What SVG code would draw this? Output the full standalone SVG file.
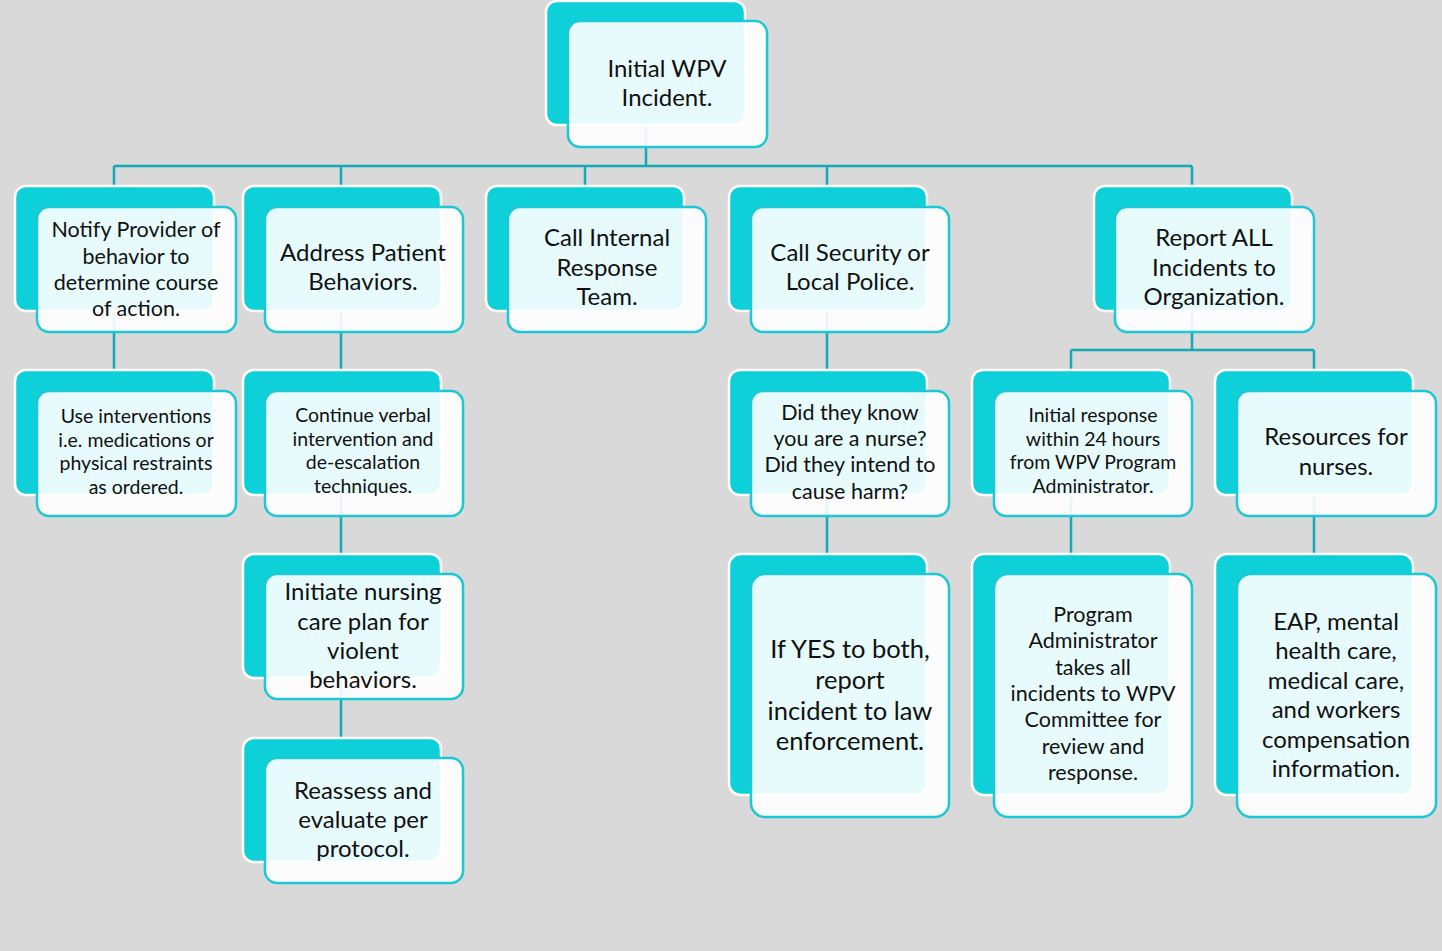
<svg xmlns="http://www.w3.org/2000/svg" width="1442" height="951" viewBox="0 0 1442 951">
<style>
.bk{fill:#0dd0d9;stroke:#ffffff;stroke-width:2.5}
.fr{fill:#ffffff;fill-opacity:0.9;stroke:#1cc8d3;stroke-width:2.5}
.ln{fill:none;stroke:#13a9b6;stroke-width:2.5}
text{font-family:Lato,"Liberation Sans",sans-serif;fill:#111;text-anchor:middle}
.s18{font-size:19.5px}.s20{font-size:21.5px}.s22{font-size:24px}.s24{font-size:25.5px}
</style>
<rect width="1442" height="951" fill="#d9d9d9"/>
<g id="connectors">
<path class="ln" d="M646 125V166M114 166H1192M114 166V186M341 166V186M585 166V186M827 166V186M1192 166V186"/>
<path class="ln" d="M114 311V370M341 311V370M341 495V554M341 678V738M827 311V370M827 495V554"/>
<path class="ln" d="M1192 311V350M1071 350H1314M1071 350V370M1314 350V370M1071 495V554M1314 495V554"/>
</g>
<g id="n-initial"><rect class="bk" x="546" y="1" width="199" height="124" rx="11"/><rect class="fr" x="568" y="21" width="199" height="126" rx="12"/>
<text class="s22"><tspan x="667" y="77">Initial WPV</tspan><tspan x="667" y="106">Incident.</tspan></text></g>
<g id="n-notify"><rect class="bk" x="15" y="186" width="199" height="125" rx="11"/><rect class="fr" x="37" y="207" width="199" height="125" rx="12"/>
<text class="s20"><tspan x="136" y="237">Notify Provider of</tspan><tspan x="136" y="264">behavior to</tspan><tspan x="136" y="290">determine course</tspan><tspan x="136" y="316">of action.</tspan></text></g>
<g id="n-address"><rect class="bk" x="243" y="186" width="198" height="125" rx="11"/><rect class="fr" x="265" y="207" width="198" height="125" rx="12"/>
<text class="s22"><tspan x="363" y="261">Address Patient</tspan><tspan x="363" y="290">Behaviors.</tspan></text></g>
<g id="n-internal"><rect class="bk" x="486" y="186" width="198" height="125" rx="11"/><rect class="fr" x="508" y="207" width="198" height="125" rx="12"/>
<text class="s22"><tspan x="607" y="246">Call Internal</tspan><tspan x="607" y="276">Response</tspan><tspan x="607" y="305">Team.</tspan></text></g>
<g id="n-security"><rect class="bk" x="729" y="186" width="198" height="125" rx="11"/><rect class="fr" x="751" y="207" width="198" height="125" rx="12"/>
<text class="s22"><tspan x="850" y="261">Call Security or</tspan><tspan x="850" y="290">Local Police.</tspan></text></g>
<g id="n-report"><rect class="bk" x="1094" y="186" width="198" height="125" rx="11"/><rect class="fr" x="1115" y="207" width="199" height="125" rx="12"/>
<text class="s22"><tspan x="1214" y="246">Report ALL</tspan><tspan x="1214" y="276">Incidents to</tspan><tspan x="1214" y="305">Organization.</tspan></text></g>
<g id="n-use"><rect class="bk" x="15" y="370" width="199" height="125" rx="11"/><rect class="fr" x="37" y="391" width="199" height="125" rx="12"/>
<text class="s18"><tspan x="136" y="423">Use interventions</tspan><tspan x="136" y="447">i.e. medications or</tspan><tspan x="136" y="470">physical restraints</tspan><tspan x="136" y="494">as ordered.</tspan></text></g>
<g id="n-continue"><rect class="bk" x="243" y="370" width="198" height="125" rx="11"/><rect class="fr" x="265" y="391" width="198" height="125" rx="12"/>
<text class="s18"><tspan x="363" y="422">Continue verbal</tspan><tspan x="363" y="446">intervention and</tspan><tspan x="363" y="469">de-escalation</tspan><tspan x="363" y="493">techniques.</tspan></text></g>
<g id="n-didthey"><rect class="bk" x="729" y="370" width="198" height="125" rx="11"/><rect class="fr" x="751" y="391" width="198" height="125" rx="12"/>
<text class="s20"><tspan x="850" y="420">Did they know</tspan><tspan x="850" y="446">you are a nurse?</tspan><tspan x="850" y="472">Did they intend to</tspan><tspan x="850" y="499">cause harm?</tspan></text></g>
<g id="n-response"><rect class="bk" x="972" y="370" width="198" height="125" rx="11"/><rect class="fr" x="994" y="391" width="198" height="125" rx="12"/>
<text class="s18"><tspan x="1093" y="422">Initial response</tspan><tspan x="1093" y="446">within 24 hours</tspan><tspan x="1093" y="469">from WPV Program</tspan><tspan x="1093" y="493">Administrator.</tspan></text></g>
<g id="n-resources"><rect class="bk" x="1215" y="370" width="198" height="125" rx="11"/><rect class="fr" x="1237" y="391" width="199" height="125" rx="12"/>
<text class="s22"><tspan x="1336" y="445">Resources for</tspan><tspan x="1336" y="475">nurses.</tspan></text></g>
<g id="n-initiate"><rect class="bk" x="243" y="554" width="198" height="124" rx="11"/><rect class="fr" x="265" y="574" width="198" height="125" rx="12"/>
<text class="s22"><tspan x="363" y="600">Initiate nursing</tspan><tspan x="363" y="630">care plan for</tspan><tspan x="363" y="659">violent</tspan><tspan x="363" y="688">behaviors.</tspan></text></g>
<g id="n-reassess"><rect class="bk" x="243" y="738" width="198" height="124" rx="11"/><rect class="fr" x="265" y="758" width="198" height="125" rx="12"/>
<text class="s22"><tspan x="363" y="799">Reassess and</tspan><tspan x="363" y="828">evaluate per</tspan><tspan x="363" y="857">protocol.</tspan></text></g>
<g id="n-ifyes"><rect class="bk" x="729" y="554" width="198" height="241" rx="12"/><rect class="fr" x="751" y="574" width="198" height="243" rx="14"/>
<text class="s24"><tspan x="850" y="658">If YES to both,</tspan><tspan x="850" y="689">report</tspan><tspan x="850" y="720">incident to law</tspan><tspan x="850" y="750">enforcement.</tspan></text></g>
<g id="n-program"><rect class="bk" x="972" y="554" width="198" height="241" rx="12"/><rect class="fr" x="994" y="574" width="198" height="243" rx="14"/>
<text class="s20"><tspan x="1093" y="622">Program</tspan><tspan x="1093" y="648">Administrator</tspan><tspan x="1093" y="675">takes all</tspan><tspan x="1093" y="701">incidents to WPV</tspan><tspan x="1093" y="727">Committee for</tspan><tspan x="1093" y="754">review and</tspan><tspan x="1093" y="780">response.</tspan></text></g>
<g id="n-eap"><rect class="bk" x="1215" y="554" width="198" height="241" rx="12"/><rect class="fr" x="1237" y="574" width="199" height="243" rx="14"/>
<text class="s22"><tspan x="1336" y="630">EAP, mental</tspan><tspan x="1336" y="659">health care,</tspan><tspan x="1336" y="689">medical care,</tspan><tspan x="1336" y="718">and workers</tspan><tspan x="1336" y="748">compensation</tspan><tspan x="1336" y="777">information.</tspan></text></g>
</svg>
